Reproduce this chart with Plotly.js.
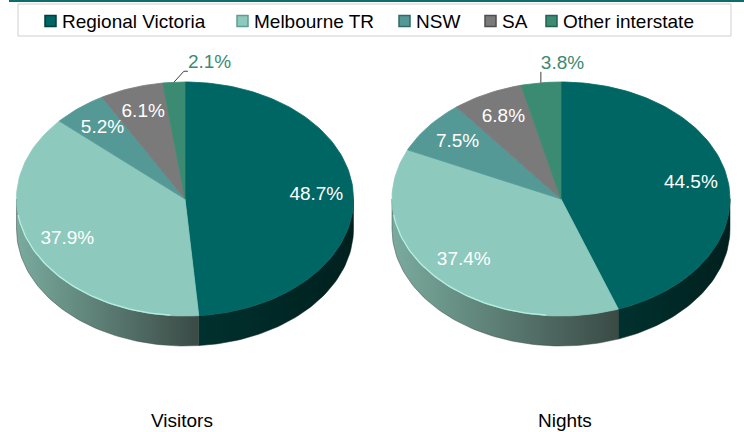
<!DOCTYPE html>
<html><head><meta charset="utf-8">
<script src="https://cdn.plot.ly/plotly-3.0.1.min.js"></script>
<style>html,body{margin:0;padding:0;background:#fff}#chart{width:744px;height:432px}</style>
</head><body><div id="chart"></div>
<script>
// ---- data ----
const categories = ['Regional Victoria', 'Melbourne TR', 'NSW', 'SA', 'Other interstate'];
const pieTitles = ['Visitors', 'Nights'];
const visitorsShare = [48.7, 37.9, 5.2, 6.1, 2.1];
const nightsShare = [44.5, 37.4, 7.5, 6.8, 3.8];

// ---- styles ----
const FONT = 'Liberation Sans, Arial, sans-serif';
const topColors = ['#006664', '#8dc9bd', '#549996', '#7a7a7a', '#3b8a72'];
const sideColors = [['#00312e', '#00201e'], ['#7aab9e', '#3a4a45'], ['#3e706e', '#2d5251'], ['#5a5a5a', '#444444'], ['#2b6553', '#1f4b3d']];
const rimHighlight = [null, '#b4efe1', null, null, null];
const legendEdge = ['#003d3c', '#5f9d90', '#2f6b69', '#4d4d4d', '#22624f'];

const pies = [
  {values: visitorsShare, title: pieTitles[0], cx: 185, cy: 199, rx: 168.5, ry: 117, depth: 30, leaderDx: 10, leaderTail: 4, titleX: 182},
  {values: nightsShare, title: pieTitles[1], cx: 561, cy: 199, rx: 169, ry: 117, depth: 30, leaderDx: 0, leaderTail: 0, titleX: 565}
];

function pt(p, deg, dy) {
  const a = deg * Math.PI / 180;
  return [p.cx + p.rx * Math.sin(a), p.cy - p.ry * Math.cos(a) + (dy || 0)];
}
function arc(p, a0, a1, dy) {
  const n = Math.max(4, Math.ceil(Math.abs(a1 - a0) / 1.5));
  const out = [];
  for (let k = 0; k <= n; k++) out.push(pt(p, a0 + (a1 - a0) * k / n, dy));
  return out;
}

const sideTraces = [], topTraces = [], rimTraces = [], labelTraces = [], leaderTraces = [];
const annotations = [];

pies.forEach(p => {
  const total = p.values.reduce((s, v) => s + v, 0);
  let cum = 0;
  p.values.forEach((v, i) => {
    const a0 = cum / total * 360;
    cum += v;
    const a1 = cum / total * 360;
    // side (visible front part between 90° and 270°)
    const lo = Math.max(a0, 90), hi = Math.min(a1, 270);
    if (hi > lo) {
      const pts = arc(p, lo, hi, 0).concat(arc(p, hi, lo, p.depth));
      pts.push(pts[0]);
      sideTraces.push({
        type: 'scatter', mode: 'lines', x: pts.map(q => q[0]), y: pts.map(q => q[1]),
        fill: 'toself', line: {width: 0.5, color: sideColors[i][1]},
        fillgradient: {type: 'horizontal', colorscale: [[0, sideColors[i][0]], [1, sideColors[i][1]]]},
        hoverinfo: 'skip', showlegend: false
      });
      if (rimHighlight[i]) {
        const rim = arc(p, Math.max(lo, 185), Math.min(hi, 262), 0);
        rimTraces.push({
          type: 'scatter', mode: 'lines', x: rim.map(q => q[0]), y: rim.map(q => q[1] - 0.5),
          line: {width: 1.3, color: rimHighlight[i]}, hoverinfo: 'skip', showlegend: false
        });
      }
    }
    // top face
    const tp = [[p.cx, p.cy]].concat(arc(p, a0, a1, 0));
    tp.push([p.cx, p.cy]);
    topTraces.push({
      type: 'scatter', mode: 'lines', x: tp.map(q => q[0]), y: tp.map(q => q[1]),
      fill: 'toself', fillcolor: topColors[i], line: {width: 0.8, color: topColors[i]},
      name: categories[i], hoverinfo: 'skip', showlegend: false
    });
    // labels
    const mid = (a0 + a1) / 2;
    const txt = v.toFixed(1) + '%';
    if (v >= 5) {
      const f = 0.78;
      const a = mid * Math.PI / 180;
      labelTraces.push({
        type: 'scatter', mode: 'text',
        x: [p.cx + p.rx * f * Math.sin(a)], y: [p.cy - p.ry * f * Math.cos(a)],
        text: [txt], textposition: 'middle center',
        textfont: {family: FONT, size: 19, color: '#ffffff'},
        hoverinfo: 'skip', showlegend: false, cliponaxis: false
      });
    } else {
      const r = pt(p, mid, 0);
      const e1 = [r[0] + p.leaderDx, r[1] - 11];
      const e2 = [e1[0] + p.leaderTail, e1[1]];
      leaderTraces.push({
        type: 'scatter', mode: 'lines', x: [r[0], e1[0], e2[0]], y: [r[1], e1[1], e2[1]],
        line: {color: '#404040', width: 1}, hoverinfo: 'skip', showlegend: false
      });
      labelTraces.push({
        type: 'scatter', mode: 'text', x: [e2[0]], y: [e2[1] - 8],
        text: [txt], textposition: 'middle right',
        textfont: {family: FONT, size: 19, color: topColors[i]},
        hoverinfo: 'skip', showlegend: false, cliponaxis: false
      });
    }
  });
  annotations.push({
    x: p.titleX, y: 420, xref: 'x', yref: 'y', text: p.title, showarrow: false,
    font: {family: FONT, size: 19, color: '#000000'}, xanchor: 'center', yanchor: 'middle'
  });
});

// ---- legend (drawn as layout shapes + text) ----
const legendTextX = [60, 252, 414, 500, 561];
const shapes = [
  {type: 'line', xref: 'x', yref: 'y', x0: 9, x1: 744, y0: 1, y1: 1, line: {color: '#0c6d6d', width: 2}},
  {type: 'rect', xref: 'x', yref: 'y', x0: 18, x1: 731, y0: 4, y1: 36, line: {color: '#cfcfcf', width: 1}, fillcolor: 'rgba(0,0,0,0)'}
];
categories.forEach((c, i) => {
  const x = legendTextX[i];
  shapes.push({type: 'rect', xref: 'x', yref: 'y', x0: x - 15, x1: x - 4, y0: 15.5, y1: 26.5,
    fillcolor: topColors[i], line: {color: legendEdge[i], width: 1.5}});
  annotations.push({x: x, y: 21.5, xref: 'x', yref: 'y', text: c, showarrow: false,
    xanchor: 'left', yanchor: 'middle', font: {family: FONT, size: 19, color: '#000000'}});
});

const layout = {
  width: 744, height: 432,
  margin: {l: 0, r: 0, t: 0, b: 0, pad: 0},
  paper_bgcolor: '#ffffff', plot_bgcolor: '#ffffff',
  xaxis: {range: [0, 744], visible: false, fixedrange: true},
  yaxis: {range: [432, 0], visible: false, fixedrange: true},
  showlegend: false,
  shapes: shapes,
  annotations: annotations
};

Plotly.newPlot('chart', sideTraces.concat(topTraces, rimTraces, leaderTraces, labelTraces), layout,
  {staticPlot: true, displayModeBar: false});
</script>
</body></html>
